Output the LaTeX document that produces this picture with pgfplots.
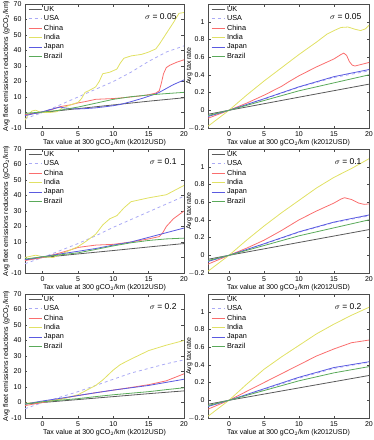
\documentclass[border=0pt]{standalone}
\usepackage{pgfplots}
\pgfplotsset{compat=1.18}
\usepackage{fontspec}
\setmainfont{Liberation Sans}

\definecolor{cUK}{RGB}{90,90,90}
\definecolor{cUSA}{RGB}{170,170,245}
\definecolor{cCN}{RGB}{250,110,110}
\definecolor{cIN}{RGB}{225,225,100}
\definecolor{cJP}{RGB}{90,90,225}
\definecolor{cBR}{RGB}{90,170,90}

\pgfplotscreateplotcyclelist{countries}{
  {cUK},{cUSA,dashed},{cCN},{cIN},{cJP},{cBR}}

\pgfplotsset{
  panel/.style={
    scale only axis, height=124pt,
    xmax=20, xtick={0,5,10,15,20},
    tick align=inside, major tick length=2.5pt,
    axis line style={black!70},
    every tick/.style={black!70},
    tick label style={font=\fontsize{7}{8}\selectfont},
    label style={font=\fontsize{7}{8}\selectfont},
    xlabel={Tax value at 300 gCO$_2$/km (k2012USD)},
    xlabel style={yshift=4pt},
    /pgf/number format/assume math mode=true,
    cycle list name=countries,
    every axis plot/.append style={line width=0.8pt},
    legend style={draw=none, fill=none, at={(0.0,1.015)}, anchor=north west,
      font=\fontsize{7.3}{8}\selectfont, row sep=-1.3pt,
      legend cell align=left},
    legend image code/.code={\draw[##1] (0pt,0pt) -- (13pt,0pt);},
    anchor=north west,
  },
  emis/.style={panel, width=159pt, xmin=-2.5, ymin=-10, ymax=70,
    ytick={-10,0,...,70},
    ylabel={Avg fleet emissions reductions (gCO$_2$/km)},
    ylabel style={yshift=-5pt}},
  rate/.style={panel, width=161pt, xmin=-3, ymin=-0.2, ymax=1.2,
    ytick={-0.2,0,0.2,0.4,0.6,0.8,1},
    yticklabels={$-$0.2,0,0.2,0.4,0.6,0.8,1},
    ylabel={Avg tax rate}, ylabel style={yshift=-11pt}},
}
\newcommand{\sig}[1]{\node[anchor=north east, font=\fontsize{8.5}{9}\selectfont] at (rel axis cs:0.975,0.955) {$\sigma$ = #1};}

\begin{document}
\begin{tikzpicture}
\useasboundingbox (0,0) rectangle (374pt,-440pt);

% ---- sigma = 0.05, emissions
\begin{axis}[emis, at={(25pt,-4pt)}]
\addplot coordinates {(-2.5,-1.2)(0,0)(5,2.5)(10,4.9)(15,7.3)(20,9.5)};
\addplot coordinates {(-2.5,-4)(0,0)(2.5,5)(5,10)(7.5,15)(10,20)(12.5,26)(15,33)(17.5,39)(20,43)};
\addplot coordinates {(-2.5,-1.5)(-1,-0.5)(0,0.5)(1,1.5)(2.5,3.8)(4,5)(5,6.2)(6,7)(7.5,8.5)(9,8.8)(10,9)(12.5,10)(14,10.8)(15,11.5)(16,12.5)(16.5,14)(16.8,19)(17.1,25)(17.5,29)(18,30.5)(19,32.5)(20,34)};
\addplot coordinates {(-2.5,-5)(-2,-1)(-1.5,1)(-1,1.5)(-0.5,0.5)(0,0)(1,0)(2,0.5)(2.5,2)(2.8,3)(4,5)(5,6.5)(5.5,9)(6,13)(6.5,14)(7.5,16.5)(8,20)(8.5,25)(9.5,26)(10.5,28)(11,32)(11.5,35)(12.5,36.5)(14,37.5)(15,39)(16,41)(16.5,44)(17.5,51)(18.5,58)(19.3,64)(20,64.5)};
\addplot coordinates {(-2.5,-2)(-1,-0.5)(0,0.5)(1,1.8)(2,3)(2.5,3.5)(3,3)(4,2.5)(5,2.3)(6,2.5)(7.5,3)(9,3.8)(10,4.4)(11,5.2)(12.5,7)(14,9)(15,10.5)(16,12)(16.5,13)(17.5,15.5)(18.5,18)(19.5,20)(20,21)};
\addplot coordinates {(-2.5,-0.5)(0,0.3)(2.5,1.5)(5,3.5)(7.5,6)(10,8.5)(12.5,10.2)(15,11.3)(17.5,12.2)(20,13)};
\legend{UK,USA,China,India,Japan,Brazil}
\sig{0.05}
\end{axis}

% ---- sigma = 0.05, tax rate
\begin{axis}[rate, at={(208pt,-4pt)}]
\addplot coordinates {(-3,-0.045)(0,0)(10,0.148)(20,0.295)};
\addplot coordinates {(-3,-0.065)(0,0)(5,0.125)(10,0.26)(15,0.37)(20,0.445)};
\addplot coordinates {(-3,-0.09)(0,0)(2.5,0.08)(5,0.17)(7.5,0.27)(8.5,0.32)(10,0.39)(12.5,0.49)(15,0.58)(16,0.63)(16.4,0.645)(16.8,0.62)(17.2,0.55)(17.6,0.51)(18,0.5)(19,0.52)(20,0.54)};
\addplot coordinates {(-3,-0.18)(-2,-0.12)(-1,-0.06)(0,0)(2.5,0.17)(5,0.33)(7.5,0.48)(10,0.63)(12.5,0.77)(14,0.86)(15,0.9)(16,0.935)(17,0.94)(18,0.915)(18.8,0.9)(19.5,0.92)(20,0.96)};
\addplot coordinates {(-3,-0.07)(0,0)(5,0.13)(10,0.265)(15,0.38)(20,0.46)};
\addplot coordinates {(-3,-0.06)(0,0)(5,0.11)(10,0.22)(15,0.31)(20,0.4)};
\legend{UK,USA,China,India,Japan,Brazil}
\sig{0.05}
\end{axis}

% ---- sigma = 0.1, emissions
\begin{axis}[emis, at={(25pt,-149pt)}]
\addplot coordinates {(-2.5,-1.5)(0,0)(5,2.3)(10,4.5)(15,6.8)(20,9)};
\addplot coordinates {(-2.5,-4)(0,0)(2.5,4.5)(5,9)(7.5,14)(10,19.5)(12.5,24.5)(15,29.5)(17.5,34.5)(20,39.5)};
\addplot coordinates {(-2.5,-2)(0,0)(2.5,3)(4,5)(5,6.5)(7.5,8)(10,8.5)(12.5,10)(15,12)(16.5,13.5)(17,16)(17.5,20)(18.5,25)(20,30)};
\addplot coordinates {(-2.5,0)(-1.5,1)(-1,1.5)(0,0.5)(1.5,0)(2.5,2)(4,5)(5,7)(6,10)(7.5,15)(8.5,21)(9.5,25)(10.5,27)(11.5,32)(12.5,36)(15,38.5)(17.5,40.5)(20,46.5)};
\addplot coordinates {(-2.5,-1.5)(0,0.5)(2.5,2.3)(5,4)(7.5,5.8)(10,8)(12.5,10)(15,13)(17.5,16)(20,19)};
\addplot coordinates {(-2.5,-1)(0,0.5)(2.5,1.7)(5,3)(7.5,5.2)(10,7.5)(12.5,9.5)(15,11)(17.5,12)(20,12.5)};
\legend{UK,USA,China,India,Japan,Brazil}
\sig{0.1}
\end{axis}

% ---- sigma = 0.1, tax rate
\begin{axis}[rate, at={(208pt,-149pt)}]
\addplot coordinates {(-3,-0.045)(0,0)(10,0.145)(20,0.29)};
\addplot coordinates {(-3,-0.065)(0,0)(5,0.125)(10,0.26)(15,0.37)(20,0.445)};
\addplot coordinates {(-3,-0.1)(0,0)(2.5,0.08)(5,0.17)(7.5,0.28)(10,0.4)(12.5,0.5)(15,0.59)(16,0.635)(16.5,0.65)(17.5,0.63)(18.5,0.59)(19.3,0.575)(20,0.58)};
\addplot coordinates {(-3,-0.18)(-2,-0.12)(-1,-0.06)(0,0)(2.5,0.17)(5,0.33)(7.5,0.48)(10,0.62)(12.5,0.76)(15,0.88)(17.5,0.98)(20,1.09)};
\addplot coordinates {(-3,-0.07)(0,0)(5,0.13)(10,0.265)(15,0.375)(20,0.455)};
\addplot coordinates {(-3,-0.06)(0,0)(5,0.11)(10,0.22)(15,0.31)(20,0.4)};
\legend{UK,USA,China,India,Japan,Brazil}
\sig{0.1}
\end{axis}

% ---- sigma = 0.2, emissions
\begin{axis}[emis, at={(25pt,-294pt)}]
\addplot coordinates {(-2.5,-1)(0,0)(5,1.9)(10,3.8)(15,5.7)(20,7.5)};
\addplot coordinates {(-2.5,-4)(0,0)(2.5,3.5)(5,7)(7.5,11)(10,15)(12.5,19)(15,22)(17.5,25)(20,27.5)};
\addplot coordinates {(-2.5,-2)(0,0)(2.5,2.3)(5,4.5)(7.5,6.3)(10,8)(12.5,9.7)(15,11.5)(17.5,14)(20,18.5)};
\addplot coordinates {(-2.5,-0.5)(0,0.5)(2.5,2)(5,5)(7.5,11)(8.5,14.5)(10,21)(11,24.5)(12.5,28)(15,33.5)(17.5,37)(20,40)};
\addplot coordinates {(-2.5,-1)(0,1)(2.5,2.7)(5,4.5)(7.5,6.3)(10,8)(12.5,9.5)(15,11)(17.5,13)(20,15)};
\addplot coordinates {(-2.5,-1)(0,0.5)(2.5,1.5)(5,2.5)(7.5,3.8)(10,5)(12.5,6)(15,7)(17.5,8.3)(20,9.5)};
\legend{UK,USA,China,India,Japan,Brazil}
\sig{0.2}
\end{axis}

% ---- sigma = 0.2, tax rate
\begin{axis}[rate, at={(208pt,-294pt)}]
\addplot coordinates {(-3,-0.045)(0,0)(10,0.14)(20,0.28)};
\addplot coordinates {(-3,-0.065)(0,0)(5,0.12)(10,0.25)(15,0.36)(20,0.43)};
\addplot coordinates {(-3,-0.1)(0,0)(2.5,0.1)(5,0.2)(7.5,0.3)(10,0.4)(12.5,0.5)(15,0.58)(17.5,0.65)(20,0.68)};
\addplot coordinates {(-3,-0.18)(-2,-0.12)(-1,-0.06)(0,0)(2.5,0.18)(5,0.35)(7.5,0.49)(10,0.62)(12.5,0.75)(15,0.86)(17.5,0.96)(20,1.05)};
\addplot coordinates {(-3,-0.07)(0,0)(5,0.13)(10,0.26)(15,0.37)(20,0.435)};
\addplot coordinates {(-3,-0.06)(0,0)(5,0.11)(10,0.22)(15,0.31)(20,0.38)};
\legend{UK,USA,China,India,Japan,Brazil}
\sig{0.2}
\end{axis}
\end{tikzpicture}
\end{document}
